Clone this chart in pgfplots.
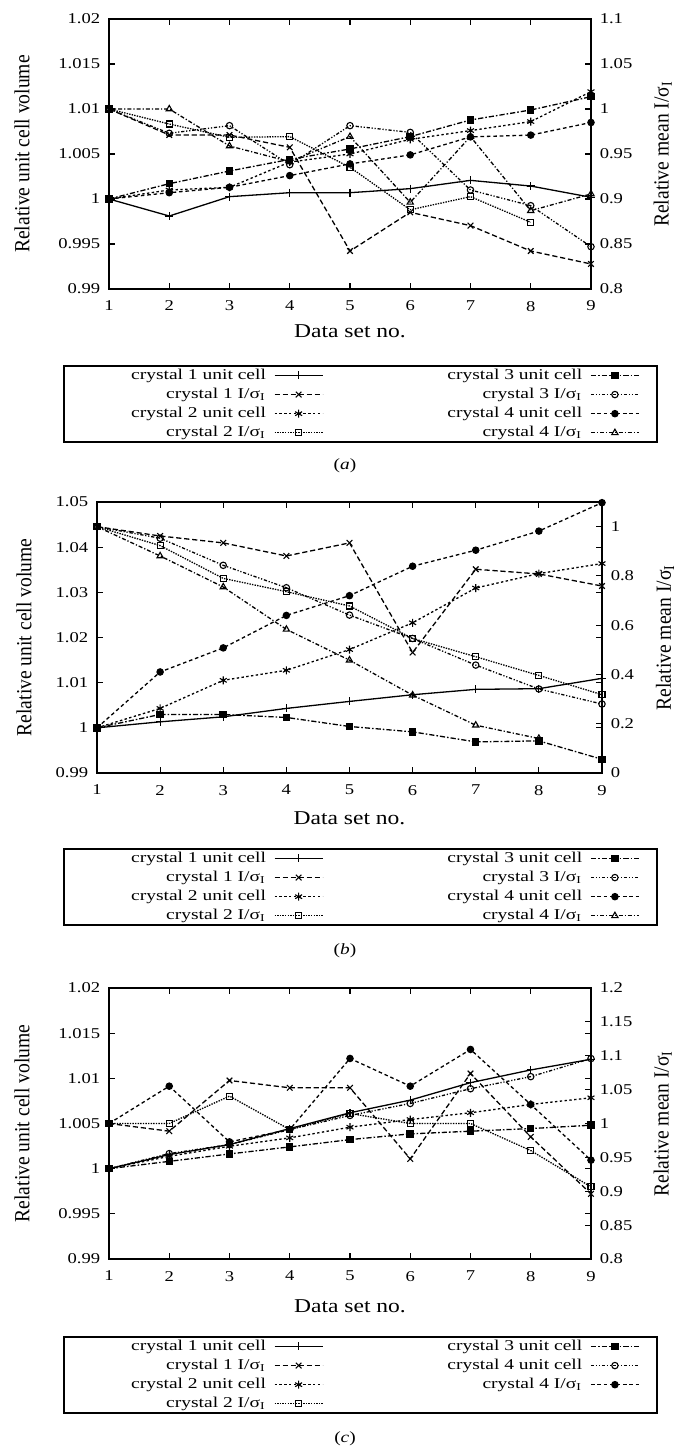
\documentclass[border=0pt]{standalone}
\usepackage{fontspec}
\setmainfont{Liberation Serif}
\usepackage{graphicx}
\usepackage{pgfplots}
\pgfplotsset{compat=1.18}
\newcommand{\sig}{I/σ\textsubscript{I}}
\newcommand\lgl[1]{\makebox[96.5pt][r]{\scalebox{1.3}[1]{#1}\hspace{4pt}}}
\newcommand\lgr[1]{\makebox[133.5pt][r]{\scalebox{1.3}[1]{#1}\hspace{4pt}}}
\pgfplotsset{
  base/.style={
    scale only axis, xmin=1, xmax=9, xtick={1,2,3,4,5,6,7,8,9},
    tick align=inside, major tick length=3pt, minor tick num=0,
    every tick/.style={black, line width=0.55pt},
    axis line style={line width=0.95pt},
    /pgf/number format/assume math mode=true,
    font=\fontsize{7.5}{9}\selectfont,
    clip=false,
    xticklabel style={xscale=1.24, yshift=-2.5pt},
    yticklabel style={xscale=1.24},
    label style={font=\fontsize{9.8}{11}\selectfont},
    xlabel style={xscale=1.2},
    ylabel style={yscale=1.1, inner sep=1pt},
    legend columns=2, legend plot pos=right, legend cell align=right,
    legend image code/.code={\draw[mark repeat=2,mark phase=2,##1] plot coordinates {(0pt,0pt) (12pt,0pt) (24pt,0pt)};},
  },
  lg/.style 2 args={legend style={at={(axis description cs:#1,#2)}, anchor=north west, draw=black, line width=0.95pt, fill=white,
    inner xsep=8.5pt, inner ysep=1.1pt, row sep=2.25pt, font=\fontsize{7.5}{9}\selectfont,
    nodes={inner xsep=0pt, inner ysep=0.3pt}}},
  pl/.style={black, line width=0.65pt, mark options={solid, line width=0.55pt}},
  st1/.style={pl, solid, mark=+, mark size=2pt},
  st2/.style={pl, dash pattern=on 2.6pt off 1.4pt, mark=x, mark size=2pt},
  st3/.style={pl, dash pattern=on 1.2pt off 1.2pt, mark=asterisk, mark size=2pt},
  st4/.style={pl, dash pattern=on 0.7pt off 0.6pt, mark=square, mark size=1.5pt},
  st5/.style={pl, dash pattern=on 2.6pt off 1pt on 0.8pt off 1pt, mark=square*, mark size=1.6pt},
  st6/.style={pl, dash pattern=on 1.6pt off 0.9pt on 0.6pt off 0.9pt on 0.6pt off 0.9pt, mark=o, mark size=1.6pt},
  st7/.style={pl, dash pattern=on 1.8pt off 1.4pt, mark=*, mark size=1.6pt},
  st8/.style={pl, dash pattern=on 2pt off 1pt on 0.6pt off 1pt, mark=triangle, mark size=1.8pt},
}
\begin{document}
\begin{tikzpicture}
\useasboundingbox (0,0) rectangle (339.5pt,-724.5pt);
%================ panel (a)
\begin{axis}[base, at={(54.5pt,-9.5pt)}, anchor=north west, width=241pt, height=135pt,
  ymin=0.99, ymax=1.02, ytick={0.99,0.995,1,1.005,1.01,1.015,1.02},
  yticklabels={0.99,0.995,1,1.005,1.01,1.015,1.02},
  ytick pos=both, yticklabel pos=left, xtick pos=both, xticklabel pos=bottom,
  ylabel={Relative unit cell volume}, ylabel style={at={(axis description cs:-0.1805,0.5)}, anchor=center},
  xlabel={Data set no.}, xlabel style={at={(axis description cs:0.5,-0.1556)}, anchor=center},
  lg={-0.0954}{-0.2815}]
\addlegendimage{st1}\addlegendentry{\lgl{crystal 1 unit cell}}
\addlegendimage{st5}\addlegendentry{\lgr{crystal 3 unit cell}}
\addlegendimage{st2}\addlegendentry{\lgl{crystal 1 \sig}}
\addlegendimage{st6}\addlegendentry{\lgr{crystal 3 \sig}}
\addlegendimage{st3}\addlegendentry{\lgl{crystal 2 unit cell}}
\addlegendimage{st7}\addlegendentry{\lgr{crystal 4 unit cell}}
\addlegendimage{st4}\addlegendentry{\lgl{crystal 2 \sig}}
\addlegendimage{st8}\addlegendentry{\lgr{crystal 4 \sig}}
\addplot[st1, forget plot] coordinates {(1,1.0)(2,0.99811)(3,1.00026)(4,1.0007)(5,1.0007)(6,1.00115)(7,1.00207)(8,1.00144)(9,1.00019)};
\addplot[st3, forget plot] coordinates {(1,1.0)(2,1.001)(3,1.0013)(4,1.0041)(5,1.0050)(6,1.00663)(7,1.0076)(8,1.0086)(9,1.01193)};
\addplot[st5, forget plot] coordinates {(1,1.0)(2,1.0017)(3,1.00311)(4,1.0044)(5,1.00556)(6,1.00693)(7,1.00878)(8,1.00989)(9,1.01137)};
\addplot[st7, forget plot] coordinates {(1,1.0)(2,1.0007)(3,1.0013)(4,1.0026)(5,1.0039)(6,1.0049)(7,1.0069)(8,1.0071)(9,1.0085)};
\end{axis}
\begin{axis}[base, at={(54.5pt,-9.5pt)}, anchor=north west, width=241pt, height=135pt,
  axis x line=none, axis y line*=right, tick align=inside,
  ymin=0.8, ymax=1.1, ytick={0.8,0.85,0.9,0.95,1,1.05,1.1},
  yticklabels={0.8,0.85,0.9,0.95,1,1.05,1.1},
  ylabel={Relative mean \sig}, ylabel style={at={(axis description cs:1.149,0.5)}, anchor=center}]
\addplot[st2] coordinates {(1,1.0)(2,0.9711)(3,0.9711)(4,0.9574)(5,0.8422)(6,0.8852)(7,0.8704)(8,0.8422)(9,0.8278)};
\addplot[st4] coordinates {(1,1.0)(2,0.9833)(3,0.9685)(4,0.9693)(5,0.9352)(6,0.8880)(7,0.9026)(8,0.8741)};
\addplot[st6] coordinates {(1,1.0)(2,0.973)(3,0.9815)(4,0.9381)(5,0.9815)(6,0.974)(7,0.910)(8,0.8926)(9,0.847)};
\addplot[st8] coordinates {(1,1.0)(2,1.0)(3,0.9589)(4,0.9415)(5,0.9693)(6,0.8963)(7,0.9693)(8,0.8870)(9,0.9056)};
\end{axis}
\node[anchor=base, font=\fontsize{7.8}{9}\selectfont, xscale=1.24] at (172.5pt,-234.5pt) {(\textit{a})};
%================ panel (b)
\begin{axis}[base, at={(48.5pt,-251pt)}, anchor=north west, width=252.5pt, height=135.5pt,
  ymin=0.99, ymax=1.05, ytick={0.99,1,1.01,1.02,1.03,1.04,1.05},
  yticklabels={0.99,1,1.01,1.02,1.03,1.04,1.05},
  ytick pos=both, yticklabel pos=left, xtick pos=both, xticklabel pos=bottom,
  ylabel={Relative unit cell volume}, ylabel style={at={(axis description cs:-0.1446,0.5)}, anchor=center},
  xlabel={Data set no.}, xlabel style={at={(axis description cs:0.5,-0.166)}, anchor=center},
  lg={-0.0673}{-0.2768}]
\addlegendimage{st1}\addlegendentry{\lgl{crystal 1 unit cell}}
\addlegendimage{st5}\addlegendentry{\lgr{crystal 3 unit cell}}
\addlegendimage{st2}\addlegendentry{\lgl{crystal 1 \sig}}
\addlegendimage{st6}\addlegendentry{\lgr{crystal 3 \sig}}
\addlegendimage{st3}\addlegendentry{\lgl{crystal 2 unit cell}}
\addlegendimage{st7}\addlegendentry{\lgr{crystal 4 unit cell}}
\addlegendimage{st4}\addlegendentry{\lgl{crystal 2 \sig}}
\addlegendimage{st8}\addlegendentry{\lgr{crystal 4 \sig}}
\addplot[st1, forget plot] coordinates {(1,1.0)(2,1.00133)(3,1.00244)(4,1.0043)(5,1.00585)(6,1.00733)(7,1.00852)(8,1.00867)(9,1.01096)};
\addplot[st3, forget plot] coordinates {(1,1.0)(2,1.0043)(3,1.01052)(4,1.01274)(5,1.01733)(6,1.02326)(7,1.03096)(8,1.03415)(9,1.03637)};
\addplot[st5, forget plot] coordinates {(1,1.0)(2,1.00296)(3,1.00296)(4,1.0023)(5,1.0003)(6,0.99911)(7,0.99689)(8,0.99711)(9,0.99304)};
\addplot[st7, forget plot] coordinates {(1,1.0)(2,1.01237)(3,1.0177)(4,1.02489)(5,1.02926)(6,1.03578)(7,1.03933)(8,1.04356)(9,1.04985)};
\end{axis}
\begin{axis}[base, at={(48.5pt,-251pt)}, anchor=north west, width=252.5pt, height=135.5pt,
  axis x line=none, axis y line*=right, tick align=inside,
  ymin=0, ymax=1.1, ytick={0,0.2,0.4,0.6,0.8,1},
  yticklabels={0,0.2,0.4,0.6,0.8,1},
  ylabel={Relative mean \sig}, ylabel style={at={(axis description cs:1.125,0.5)}, anchor=center}]
\addplot[st2] coordinates {(1,1.0)(2,0.962)(3,0.934)(4,0.881)(5,0.934)(6,0.489)(7,0.827)(8,0.808)(9,0.759)};
\addplot[st4] coordinates {(1,1.0)(2,0.923)(3,0.790)(4,0.736)(5,0.678)(6,0.546)(7,0.472)(8,0.396)(9,0.318)};
\addplot[st6] coordinates {(1,1.0)(2,0.953)(3,0.843)(4,0.752)(5,0.641)(6,0.546)(7,0.438)(8,0.341)(9,0.280)};
\addplot[st8] coordinates {(1,1.0)(2,0.881)(3,0.755)(4,0.583)(5,0.458)(6,0.316)(7,0.194)(8,0.140)};
\end{axis}
\node[anchor=base, font=\fontsize{7.8}{9}\selectfont, xscale=1.24] at (172.5pt,-477pt) {(\textit{b})};
%================ panel (c)
\begin{axis}[base, at={(54.5pt,-494pt)}, anchor=north west, width=241pt, height=135.5pt,
  ymin=0.99, ymax=1.02, ytick={0.99,0.995,1,1.005,1.01,1.015,1.02},
  yticklabels={0.99,0.995,1,1.005,1.01,1.015,1.02},
  ytick pos=both, yticklabel pos=left, xtick pos=both, xticklabel pos=bottom,
  ylabel={Relative unit cell volume}, ylabel style={at={(axis description cs:-0.1805,0.5)}, anchor=center},
  xlabel={Data set no.}, xlabel style={at={(axis description cs:0.5,-0.1734)}, anchor=center},
  lg={-0.0954}{-0.2841}]
\addlegendimage{st1}\addlegendentry{\lgl{crystal 1 unit cell}}
\addlegendimage{st5}\addlegendentry{\lgr{crystal 3 unit cell}}
\addlegendimage{st2}\addlegendentry{\lgl{crystal 1 \sig}}
\addlegendimage{st6}\addlegendentry{\lgr{crystal 4 unit cell}}
\addlegendimage{st3}\addlegendentry{\lgl{crystal 2 unit cell}}
\addlegendimage{st7}\addlegendentry{\lgr{crystal 4 \sig}}
\addlegendimage{st4}\addlegendentry{\lgl{crystal 2 \sig}}
\addplot[st1, forget plot] coordinates {(1,1.0)(2,1.00156)(3,1.00267)(4,1.00444)(5,1.00619)(6,1.00759)(7,1.00952)(8,1.01093)(9,1.01211)};
\addplot[st3, forget plot] coordinates {(1,1.0)(2,1.00137)(3,1.00248)(4,1.00341)(5,1.00459)(6,1.00544)(7,1.00619)(8,1.00711)(9,1.00785)};
\addplot[st5, forget plot] coordinates {(1,1.0)(2,1.00081)(3,1.00163)(4,1.00241)(5,1.00322)(6,1.00385)(7,1.00415)(8,1.00444)(9,1.00481)};
\addplot[st6, forget plot] coordinates {(1,1.0)(2,1.00167)(3,1.00267)(4,1.00433)(5,1.00589)(6,1.00722)(7,1.00885)(8,1.01019)(9,1.01219)};
\end{axis}
\begin{axis}[base, at={(54.5pt,-494pt)}, anchor=north west, width=241pt, height=135.5pt,
  axis x line=none, axis y line*=right, tick align=inside,
  ymin=0.8, ymax=1.2, ytick={0.8,0.85,0.9,0.95,1,1.05,1.1,1.15,1.2},
  yticklabels={0.8,0.85,0.9,0.95,1,1.05,1.1,1.15,1.2},
  ylabel={Relative mean \sig}, ylabel style={at={(axis description cs:1.149,0.5)}, anchor=center}]
\addplot[st2] coordinates {(1,1.0)(2,0.9887)(3,1.0635)(4,1.0527)(5,1.0527)(6,0.9478)(7,1.0738)(8,0.9803)(9,0.8962)};
\addplot[st4] coordinates {(1,1.0)(2,1.0)(3,1.0404)(4,0.9911)(5,1.0148)(6,1.0)(7,1.0)(8,0.9601)(9,0.9065)};
\addplot[st7] coordinates {(1,1.0)(2,1.0551)(3,0.9729)(4,0.9911)(5,1.096)(6,1.0551)(7,1.1093)(8,1.0281)(9,0.9459)};
\end{axis}
\node[anchor=base, font=\fontsize{7.8}{9}\selectfont, xscale=1.24] at (172.5pt,-721pt) {(\textit{c})};
\end{tikzpicture}
\end{document}
